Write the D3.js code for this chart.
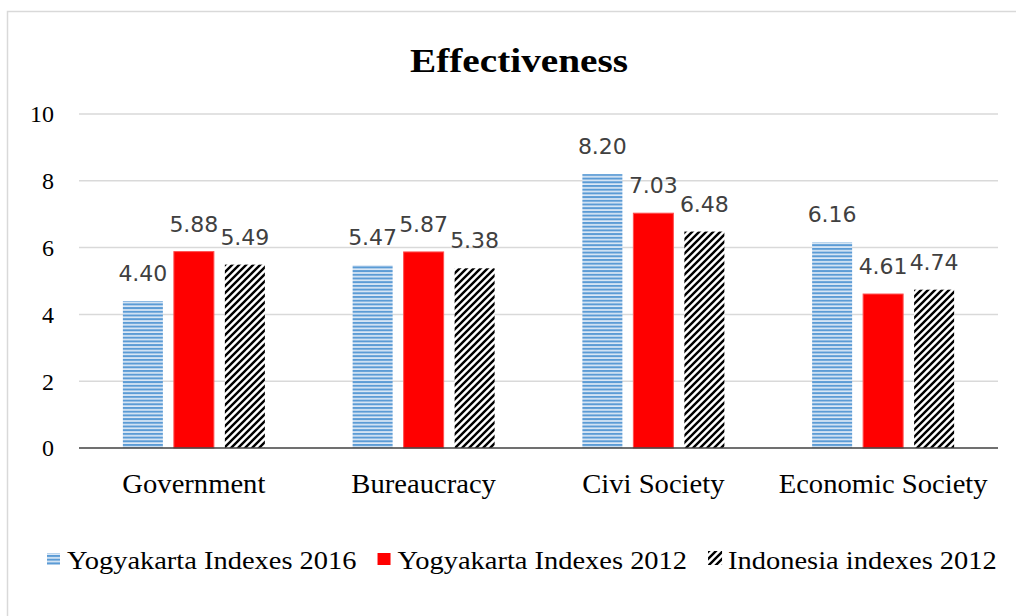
<!DOCTYPE html>
<meta charset="utf-8">
<style>
body { margin: 0; background: #fff; }
.serif { font-family: "Liberation Serif", "Times New Roman", serif; fill: #000; }
.val { font: 22px "DejaVu Sans", sans-serif; fill: #404040; text-anchor: middle; }
</style>
<body>
<script src="https://d3js.org/d3.v7.min.js"></script>
<script>
var categories = ["Government", "Bureaucracy", "Civi Society", "Economic Society"];
var seriesNames = ["Yogyakarta Indexes 2016", "Yogyakarta Indexes 2012", "Indonesia indexes 2012"];
var yogya2016 = [4.40, 5.47, 8.20, 6.16];
var yogya2012 = [5.88, 5.87, 7.03, 4.61];
var indo2012 = [5.49, 5.38, 6.48, 4.74];
var yTicks = [0, 2, 4, 6, 8, 10];

var width = 1016, height = 616;
var margin = {top: 114, right: 18, bottom: 168, left: 79};

var series = [yogya2016, yogya2012, indo2012];
var fills = ["url(#stripes)", "#ff0000", "url(#hatch)"];

var svg = d3.select("body").append("svg")
    .attr("width", width)
    .attr("height", height);

var defs = svg.append("defs");
var stripes = defs.append("pattern")
    .attr("id", "stripes")
    .attr("patternUnits", "userSpaceOnUse")
    .attr("width", 8).attr("height", 3.7);
stripes.append("rect").attr("width", 8).attr("height", 3.7).attr("fill", "#dde9f6");
stripes.append("rect").attr("width", 8).attr("height", 2).attr("fill", "#5b9bd5");

var hatch = defs.append("pattern")
    .attr("id", "hatch")
    .attr("patternUnits", "userSpaceOnUse")
    .attr("width", 7).attr("height", 7);
hatch.append("rect").attr("width", 7).attr("height", 7).attr("fill", "#fff");
hatch.append("path")
    .attr("d", "M-1,1 l2,-2 M0,7 l7,-7 M6,8 l2,-2")
    .attr("stroke", "#000")
    .attr("stroke-width", 2.4);

// chart frame
svg.append("rect")
    .attr("x", 7.5).attr("y", 11.5)
    .attr("width", 1020).attr("height", 620)
    .attr("fill", "none")
    .attr("stroke", "#d9d9d9")
    .attr("stroke-width", 1.5);

// title, a little stretched like the source picture
svg.append("text")
    .attr("class", "serif")
    .attr("transform", "translate(519,72) scale(1.19,1)")
    .attr("text-anchor", "middle")
    .style("font-size", "33px")
    .style("font-weight", "bold")
    .text("Effectiveness");

var x0 = d3.scaleBand()
    .domain(categories)
    .range([margin.left, width - margin.right]);

var y = d3.scaleLinear()
    .domain([0, 10])
    .range([height - margin.bottom, margin.top]);

var barW = 40, step = 51;

// gridlines
svg.append("g")
    .selectAll("line")
    .data(yTicks.filter(function(d) { return d > 0; }))
  .enter().append("line")
    .attr("x1", margin.left).attr("x2", width - margin.right)
    .attr("y1", function(d) { return y(d); })
    .attr("y2", function(d) { return y(d); })
    .attr("stroke", "#d9d9d9")
    .attr("stroke-width", 1.5);

// y tick labels
svg.append("g")
    .selectAll("text")
    .data(yTicks)
  .enter().append("text")
    .attr("class", "serif")
    .attr("x", 54)
    .attr("y", function(d) { return y(d); })
    .attr("dy", "0.35em")
    .attr("text-anchor", "end")
    .style("font-size", "24px")
    .text(function(d) { return d; });

// bars
series.forEach(function(vals, s) {
  var g = svg.append("g");
  g.selectAll("rect")
      .data(vals)
    .enter().append("rect")
      .attr("x", function(d, i) { return x0(categories[i]) + x0.bandwidth() / 2 - step + s * step - barW / 2; })
      .attr("y", function(d) { return y(d); })
      .attr("width", barW)
      .attr("height", function(d) { return y(0) - y(d); })
      .attr("fill", fills[s])
      .attr("stroke", s == 1 ? "#ff5050" : "none")
      .attr("stroke-width", 1);
  g.selectAll("text")
      .data(vals)
    .enter().append("text")
      .attr("class", "val")
      .attr("x", function(d, i) { return x0(categories[i]) + x0.bandwidth() / 2 - step + s * step; })
      .attr("y", function(d) { return y(d) - 20; })
      .text(function(d) { return d.toFixed(2); });
});

// baseline
svg.append("line")
    .attr("x1", margin.left).attr("x2", width - margin.right)
    .attr("y1", y(0)).attr("y2", y(0))
    .attr("stroke", "#404040")
    .attr("stroke-width", 1.5);

// category labels
svg.append("g")
    .selectAll("text")
    .data(categories)
  .enter().append("text")
    .attr("class", "serif")
    .attr("transform", function(d) { return "translate(" + (x0(d) + x0.bandwidth() / 2) + ",493) scale(1.06,1)"; })
    .attr("text-anchor", "middle")
    .style("font-size", "27px")
    .text(function(d) { return d; });

// legend
var lx = 47, sx = 1.095;
seriesNames.forEach(function(name, s) {
  svg.append("rect")
      .attr("x", lx).attr("y", s == 2 ? 551 : 553)
      .attr("width", s == 2 ? 14 : 13).attr("height", s == 2 ? 14 : 12)
      .attr("fill", fills[s]);
  var t = svg.append("text")
      .attr("class", "serif")
      .attr("transform", "translate(" + (lx + 20) + ",569) scale(" + sx + ",1)")
      .style("font-size", "26px")
      .text(name);
  lx += 20 + t.node().getComputedTextLength() * sx + 21;
});
</script>
